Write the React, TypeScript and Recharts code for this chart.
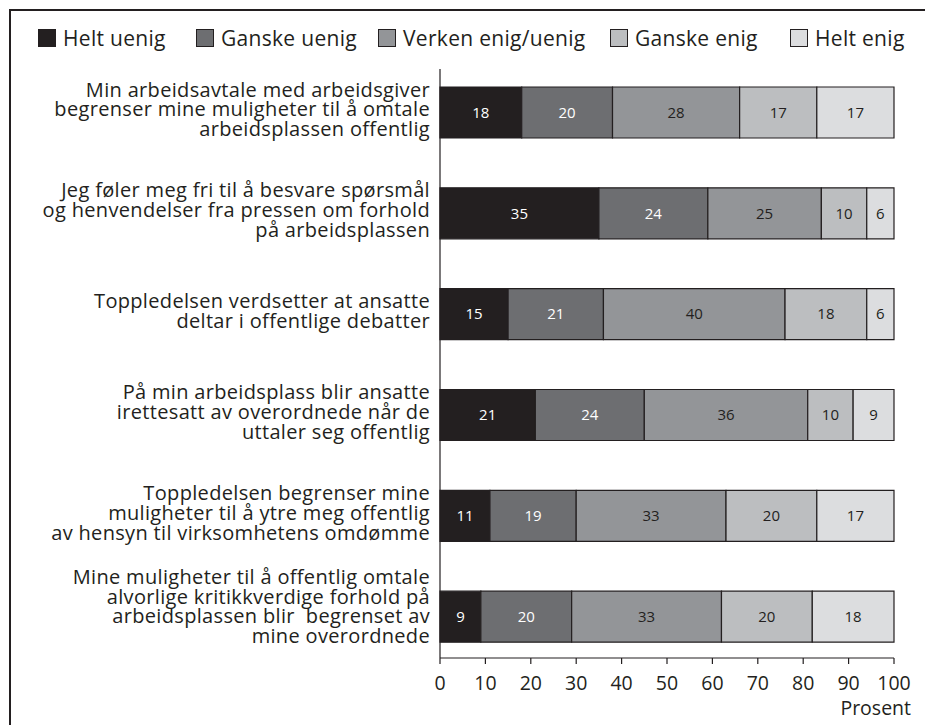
import React from "react";
import { BarChart, Bar, XAxis, YAxis, Legend, LabelList } from "recharts";

const categories = [
  "Min arbeidsavtale med arbeidsgiver\nbegrenser mine muligheter til å omtale\narbeidsplassen offentlig",
  "Jeg føler meg fri til å besvare spørsmål\nog henvendelser fra pressen om forhold\npå arbeidsplassen",
  "Toppledelsen verdsetter at ansatte\ndeltar i offentlige debatter",
  "På min arbeidsplass blir ansatte\nirettesatt av overordnede når de\nuttaler seg offentlig",
  "Toppledelsen begrenser mine\nmuligheter til å ytre meg offentlig\nav hensyn til virksomhetens omdømme",
  "Mine muligheter til å offentlig omtale\nalvorlige kritikkverdige forhold på\narbeidsplassen blir  begrenset av\nmine overordnede",
];

const heltUenig = [18, 35, 15, 21, 11, 9];
const ganskeUenig = [20, 24, 21, 24, 19, 20];
const verken = [28, 25, 40, 36, 33, 33];
const ganskeEnig = [17, 10, 18, 10, 20, 20];
const heltEnig = [17, 6, 6, 9, 17, 18];

const seriesNames = ["Helt uenig", "Ganske uenig", "Verken enig/uenig", "Ganske enig", "Helt enig"];
const xTicks = [0, 10, 20, 30, 40, 50, 60, 70, 80, 90, 100];
const axisTitle = "Prosent";

const seriesKeys = ["s1", "s2", "s3", "s4", "s5"];
const seriesColors = ["#231f20", "#6d6e71", "#939598", "#bcbec0", "#dcdddf"];
const labelColors = ["#ffffff", "#ffffff", "#231f20", "#231f20", "#231f20"];
const legendLeft = [38, 196, 378, 610, 790];
const INK = "#231f20";
const FONT = "'Open Sans', sans-serif";

const data = categories.map((label, i) => ({
  label,
  s1: heltUenig[i],
  s2: ganskeUenig[i],
  s3: verken[i],
  s4: ganskeEnig[i],
  s5: heltEnig[i],
}));

const CategoryTick = (props: any) => {
  const { x, y, payload } = props;
  const lines: string[] = String(payload.value).split("\n");
  const n = lines.length;
  const lh = 19.8;
  const shift = n > 3 ? -10 : -3;
  return (
    <text
      x={x}
      y={y}
      textAnchor="end"
      fill={INK}
      fontSize={20}
      letterSpacing={0.33}
      fontFamily={FONT}
      style={{ whiteSpace: "pre" }}
    >
      {lines.map((line, i) => (
        <tspan key={i} x={x} y={y + (i - (n - 1) / 2) * lh + shift} dy="0.35em">
          {line}
        </tspan>
      ))}
    </text>
  );
};

const LegendContent = () => {
  return (
    <div
      style={{
        position: "relative",
        height: 49,
        width: 925,
        fontFamily: FONT,
        fontSize: 21,
        letterSpacing: 0.3,
        color: INK,
      }}
    >
      {seriesNames.map((name, i) => (
        <div
          key={name}
          style={{
            position: "absolute",
            left: legendLeft[i],
            top: 8,
            display: "flex",
            alignItems: "center",
            height: 20,
          }}
        >
          <span
            style={{
              display: "inline-block",
              width: 18,
              height: 18,
              background: seriesColors[i],
              border: `1px solid ${INK}`,
              marginRight: 7,
              boxSizing: "border-box",
            }}
          />
          <span style={{ lineHeight: "20px", whiteSpace: "nowrap" }}>{name}</span>
        </div>
      ))}
    </div>
  );
};

const ProsentLabel = (props: any) => {
  const vb = props.viewBox || {};
  return (
    <text
      x={vb.x + vb.width + 17}
      y={vb.y + 57}
      textAnchor="end"
      fill={INK}
      fontSize={19.5}
      fontFamily={FONT}
    >
      {axisTitle}
    </text>
  );
};

export default function App() {
  return (
    <div
      style={{
        position: "absolute",
        left: 0,
        top: 0,
        width: 925,
        height: 725,
        overflow: "hidden",
        background: "#ffffff",
      }}
    >
      <div
        style={{
          position: "absolute",
          left: 9,
          top: 9,
          width: 1000,
          height: 1000,
          border: `2px solid ${INK}`,
        }}
      />
      <div style={{ position: "absolute", left: 0, top: 0 }}>
        <BarChart
          width={925}
          height={725}
          data={data}
          layout="vertical"
          margin={{ top: 20, right: 31, bottom: 17, left: 10 }}
          style={{ fontFamily: FONT }}
        >
          <Legend
            verticalAlign="top"
            align="left"
            content={<LegendContent />}
            wrapperStyle={{ left: 0, top: 20, width: 925, height: 49 }}
          />
          <XAxis
            type="number"
            domain={[0, 100]}
            ticks={xTicks}
            interval={0}
            height={50}
            axisLine={{ stroke: INK, strokeWidth: 1.2 }}
            tickLine={{ stroke: INK, strokeWidth: 1.2 }}
            tickSize={6}
            tickMargin={12}
            tick={{ fill: INK, fontSize: 19.5, fontFamily: FONT }}
            label={<ProsentLabel />}
          />
          <XAxis
            xAxisId="top"
            orientation="top"
            type="number"
            domain={[0, 100]}
            height={0}
            tick={false}
            tickLine={false}
            axisLine={{ stroke: INK, strokeWidth: 1.2 }}
          />
          <YAxis
            type="category"
            dataKey="label"
            width={430}
            tickLine={false}
            tickSize={0}
            tickMargin={10}
            interval={0}
            padding={{ top: -7, bottom: -9 }}
            axisLine={{ stroke: INK, strokeWidth: 1.2 }}
            tick={<CategoryTick />}
          />
          <YAxis
            yAxisId="right"
            orientation="right"
            type="category"
            dataKey="label"
            width={0}
            tick={false}
            tickLine={false}
            axisLine={{ stroke: INK, strokeWidth: 1.2 }}
          />
          {seriesKeys.map((k, i) => (
            <Bar
              key={k}
              dataKey={k}
              name={seriesNames[i]}
              stackId="a"
              fill={seriesColors[i]}
              stroke={INK}
              strokeWidth={1.2}
              barSize={51}
              isAnimationActive={false}
            >
              <LabelList
                dataKey={k}
                position="center"
                fill={labelColors[i]}
                fontSize={15}
                fontFamily={FONT}
              />
            </Bar>
          ))}
        </BarChart>
      </div>
    </div>
  );
}
